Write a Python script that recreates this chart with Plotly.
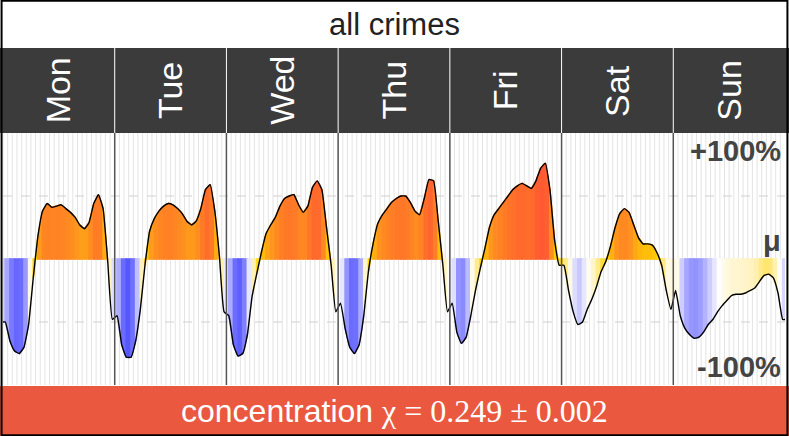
import plotly.graph_objects as go

days = ["Mon", "Tue", "Wed", "Thu", "Fri", "Sat", "Sun"]
mon = [-0.50,-0.65,-0.73,-0.75,-0.70,-0.52,-0.15,0.18,0.38,0.44,0.41,0.42,0.43,0.40,0.37,0.33,0.27,0.24,0.29,0.44,0.51,0.40,-0.02,-0.48]
tue = [-0.45,-0.68,-0.78,-0.78,-0.65,-0.40,-0.05,0.22,0.32,0.38,0.42,0.44,0.43,0.40,0.36,0.30,0.27,0.30,0.40,0.55,0.59,0.38,0.02,-0.42]
wed = [-0.45,-0.68,-0.77,-0.75,-0.60,-0.30,-0.12,0.05,0.20,0.27,0.33,0.42,0.48,0.50,0.51,0.43,0.37,0.42,0.57,0.62,0.55,0.25,-0.05,-0.42]
thu = [-0.35,-0.55,-0.70,-0.75,-0.68,-0.45,-0.10,0.12,0.28,0.35,0.40,0.45,0.48,0.50,0.50,0.45,0.38,0.35,0.48,0.63,0.62,0.30,-0.05,-0.42]
fri = [-0.35,-0.58,-0.67,-0.62,-0.45,-0.25,-0.08,0.08,0.25,0.35,0.40,0.45,0.50,0.55,0.58,0.60,0.58,0.56,0.62,0.72,0.76,0.55,0.15,-0.05]
sat = [-0.05,-0.25,-0.42,-0.52,-0.50,-0.40,-0.32,-0.22,-0.10,-0.02,0.10,0.25,0.36,0.40,0.37,0.27,0.17,0.12,0.12,0.11,0.05,-0.05,-0.25,-0.40]
sun = [-0.25,-0.45,-0.55,-0.60,-0.63,-0.62,-0.58,-0.52,-0.48,-0.42,-0.37,-0.33,-0.29,-0.28,-0.28,-0.27,-0.25,-0.23,-0.18,-0.13,-0.12,-0.15,-0.27,-0.48]
title_text = "all crimes"
footer_label = "concentration "
footer_math = "χ = 0.249 ± 0.002"

vals = mon + tue + wed + thu + fri + sat + sun
xs = [i + 0.5 for i in range(len(vals))]

stops = [(-0.8, (80, 80, 255)), (-0.58, (165, 165, 255)), (-0.4, (255, 255, 255)),
         (-0.2, (255, 240, 175)), (0.0, (255, 215, 0)), (0.3, (255, 150, 30)), (0.7, (255, 90, 50))]

def col(v):
    if v <= stops[0][0]:
        c = stops[0][1]
    elif v >= stops[-1][0]:
        c = stops[-1][1]
    else:
        for (a, ca), (b, cb) in zip(stops, stops[1:]):
            if a <= v <= b:
                t = (v - a) / (b - a)
                c = tuple(ca[k] + (cb[k] - ca[k]) * t for k in range(3))
                break
    return "rgb(%d,%d,%d)" % c

fig = go.Figure()
px = [0] + xs + [len(vals)]
pv = [vals[0]] + vals + [vals[-1]]
for i in range(len(px) - 1):
    x0, x1, v0, v1 = px[i], px[i + 1], pv[i], pv[i + 1]
    c = col((v0 + v1) / 2)
    fig.add_trace(go.Scatter(x=[x0, x1, x1, x0, x0], y=[v0, v1, 0, 0, v0], fill="toself",
                             fillcolor=c, line=dict(width=1.6, color=c), mode="lines",
                             hoverinfo="skip", showlegend=False))
fig.add_trace(go.Scatter(x=px, y=pv, mode="lines",
                         line=dict(color="black", width=1.4, shape="spline", smoothing=0.4),
                         showlegend=False))

shapes = []
for h in range(168):
    shapes.append(dict(type="line", xref="x", yref="y", x0=h, x1=h, y0=-1, y1=1,
                       line=dict(color="#e4e4e4", width=1), layer="below"))
for y in (-0.5, 0.5):
    shapes.append(dict(type="line", xref="x", yref="y", x0=0, x1=168, y0=y, y1=y,
                       line=dict(color="#d0d0d0", width=1, dash="dash"), layer="below"))
shapes.append(dict(type="line", xref="x", yref="y", x0=0, x1=168, y0=0, y1=0,
                   line=dict(color="#c8c8ff", width=1, dash="dash"), layer="below"))
for d in range(1, 7):
    shapes.append(dict(type="line", xref="x", yref="y", x0=d * 24, x1=d * 24, y0=-1, y1=1,
                       line=dict(color="#555", width=1.5)))
yp_top, yp_head, yp_bot = 1 - 133 / 436, 1 - 48 / 436, 1 - 386 / 436
shapes.append(dict(type="rect", xref="paper", yref="paper", x0=0, x1=1, y0=yp_top, y1=yp_head,
                   fillcolor="#3b3b3b", line=dict(width=0)))
shapes.append(dict(type="rect", xref="paper", yref="paper", x0=0, x1=1, y0=0, y1=yp_bot,
                   fillcolor="#e9583f", line=dict(width=0)))
for d in range(1, 7):
    xp = (3 + d * 782 / 7) / 789
    shapes.append(dict(type="line", xref="paper", yref="paper", x0=xp, x1=xp, y0=yp_top, y1=yp_head,
                       line=dict(color="white", width=1)))
shapes.append(dict(type="rect", xref="paper", yref="paper", x0=0.002, x1=0.998, y0=0.002, y1=0.998,
                   line=dict(color="black", width=2)))

ann = [dict(text=title_text, xref="paper", yref="paper", x=0.5, y=(1 + yp_head) / 2, yanchor="middle",
            showarrow=False, font=dict(size=31, color="#222", family="Liberation Sans")),
       dict(text=footer_label + "<span style='font-family:Liberation Serif'>" + footer_math + "</span>",
            xref="paper", yref="paper", x=0.5, y=yp_bot / 2, yanchor="middle", showarrow=False,
            font=dict(size=32, color="white", family="Liberation Sans"))]
for d, name in enumerate(days):
    ann.append(dict(text=name, xref="paper", yref="paper", x=(3 + (d + 0.5) * 782 / 7) / 789,
                    y=(yp_top + yp_head) / 2, xanchor="center", yanchor="middle", align="center",
                    textangle=-90, showarrow=False,
                    font=dict(size=34, color="white", family="Liberation Sans")))
for t, y, ya in (("<b>+100%</b>", 1, "top"), ("<b>μ</b>", 0, "bottom"), ("<b>-100%</b>", -1, "bottom")):
    ann.append(dict(text=t, xref="paper", yref="y", x=0.993, y=y, xanchor="right", yanchor=ya,
                    showarrow=False, font=dict(size=29, color="#444", family="Liberation Sans")))

fig.update_layout(width=789, height=436, margin=dict(l=0, r=0, t=0, b=0),
                  paper_bgcolor="white", plot_bgcolor="white", shapes=shapes, annotations=ann,
                  xaxis=dict(domain=[3 / 789, 785 / 789], range=[0, 168], visible=False),
                  yaxis=dict(domain=[1 - 385 / 436, 1 - 133 / 436], range=[-1, 1], visible=False))
fig.write_html("out.html", config={"displayModeBar": False},
               post_script="document.body.style.margin='0';document.body.style.overflow='hidden';")
